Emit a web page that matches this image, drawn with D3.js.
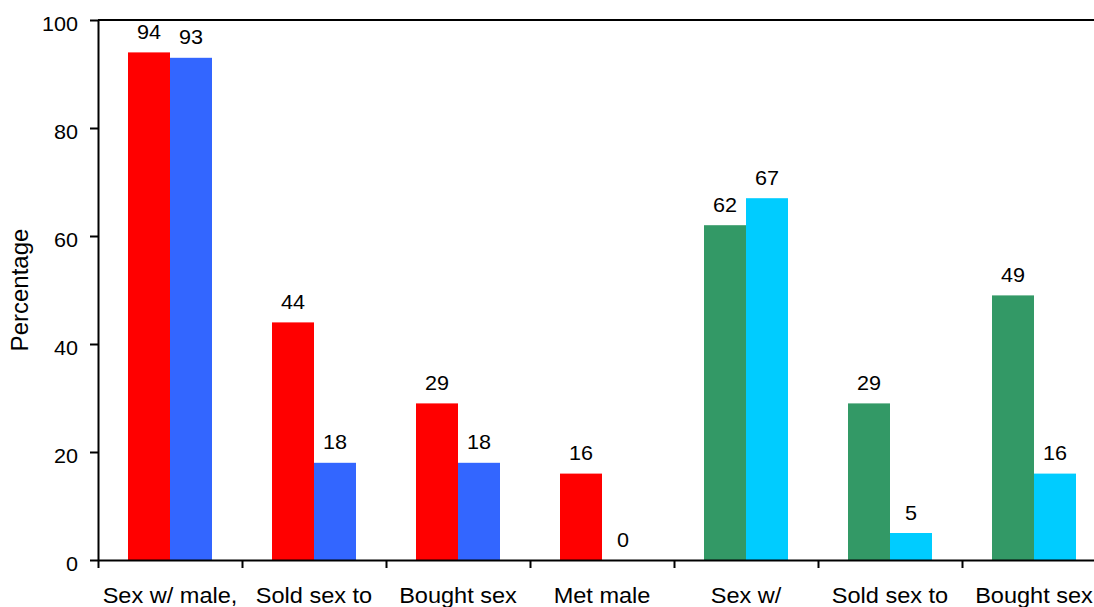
<!DOCTYPE html>
<html>
<head>
<meta charset="utf-8">
<script src="https://cdn.jsdelivr.net/npm/d3@7/dist/d3.min.js"></script>
<style>
  html, body { margin: 0; padding: 0; background: #fff; overflow: hidden; }
  text { font-family: "Liberation Sans", Arial, Helvetica, sans-serif; fill: #000; }
</style>
</head>
<body>
<svg id="chart" width="1094" height="607"></svg>
<script>
// ---- data ----
const categories = ["Sex w/ male,", "Sold sex to", "Bought sex", "Met male", "Sex w/", "Sold sex to", "Bought sex"];
const seriesA = [94, 44, 29, 16, 62, 29, 49];
const seriesB = [93, 18, 18, 0, 67, 5, 16];
const colorsA = ["#FF0000", "#FF0000", "#FF0000", "#FF0000", "#339966", "#339966", "#339966"];
const colorsB = ["#3366FF", "#3366FF", "#3366FF", "#3366FF", "#00CCFF", "#00CCFF", "#00CCFF"];
const yTicks = [0, 20, 40, 60, 80, 100];
const yTitle = "Percentage";

(function () {
  const svg = d3.select("#chart");
  const pLeft = 98, pTop = 20, pBottom = 560;
  const band = 144;
  const pRight = pLeft + band * categories.length;

  const x0 = d3.scaleBand().domain(d3.range(categories.length)).range([pLeft, pRight]).paddingInner(0).paddingOuter(0);
  const x1 = d3.scaleBand().domain(["A", "B"]).range([30, 114]).padding(0);
  const y = d3.scaleLinear().domain([0, 100]).range([pBottom, pTop]);

  const rows = categories.map((c, i) => ({ i, c, A: seriesA[i], B: seriesB[i], cA: colorsA[i], cB: colorsB[i] }));

  const g = svg.append("g");
  rows.forEach(r => {
    [["A", r.A, r.cA], ["B", r.B, r.cB]].forEach(([k, v, col]) => {
      const bx = x0(r.i) + x1(k);
      g.append("rect")
        .attr("x", bx)
        .attr("y", y(v))
        .attr("width", x1.bandwidth())
        .attr("height", y(0) - y(v))
        .attr("fill", col);
      const cx = bx + x1.bandwidth() / 2;
      const ty = y(v) - 13.5;
      g.append("text")
        .attr("transform", `translate(${cx},${ty}) scale(1.08,1)`)
        .attr("text-anchor", "middle")
        .style("font-size", "20px")
        .text(v);
    });
  });

  // top frame line
  svg.append("line").attr("x1", pLeft).attr("x2", 1094 + 20).attr("y1", pTop).attr("y2", pTop)
    .attr("stroke", "#000").attr("stroke-width", 2);

  // y axis
  const yAxis = d3.axisLeft(y).tickValues(yTicks).tickSize(8).tickSizeOuter(0).tickFormat("");
  const ya = svg.append("g").attr("transform", `translate(${pLeft},0)`).call(yAxis);
  ya.select(".domain").attr("stroke", "#000").attr("stroke-width", 2);
  ya.selectAll(".tick line").attr("stroke", "#000").attr("stroke-width", 2);
  yTicks.forEach(t => {
    svg.append("text")
      .attr("transform", `translate(78,${y(t) + 11}) scale(1.08,1)`)
      .attr("text-anchor", "end")
      .style("font-size", "20px")
      .text(t);
  });

  // x axis with boundary ticks
  const xb = d3.scaleLinear().domain([0, categories.length]).range([pLeft, pRight]);
  const xAxis = d3.axisBottom(xb).tickValues(d3.range(categories.length + 1)).tickSize(8).tickSizeOuter(0).tickFormat("");
  const xa = svg.append("g").attr("transform", `translate(0,${pBottom})`).call(xAxis);
  xa.select(".domain").attr("stroke", "#000").attr("stroke-width", 2);
  xa.selectAll(".tick line").attr("stroke", "#000").attr("stroke-width", 2);

  // category labels
  rows.forEach(r => {
    svg.append("text")
      .attr("transform", `translate(${x0(r.i) + band / 2},603) scale(1.07,1)`)
      .attr("text-anchor", "middle")
      .style("font-size", "22px")
      .text(r.c);
  });

  // y title
  svg.append("text")
    .attr("transform", `translate(28,${(pTop + pBottom) / 2}) rotate(-90)`)
    .attr("text-anchor", "middle")
    .style("font-size", "24px")
    .text(yTitle);
})();
</script>
</body>
</html>
